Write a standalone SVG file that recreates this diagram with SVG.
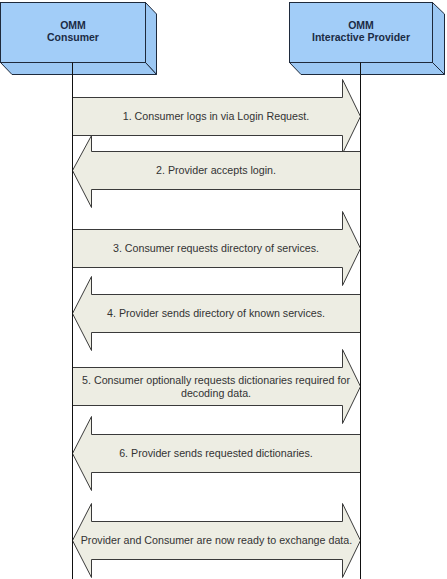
<svg xmlns="http://www.w3.org/2000/svg" width="447" height="579" viewBox="0 0 447 579">
<style>
.box{fill:#A2CDF8;stroke:#1E2A3C;stroke-width:1;stroke-linejoin:miter}
.side{fill:#9CC8F4;stroke:#1E2A3C;stroke-width:1}
.life{stroke:#111;stroke-width:1;fill:none}
.title{font-family:"Liberation Sans",Arial,sans-serif;font-weight:bold;font-size:10.5px;fill:#1B2B45;text-anchor:middle}
.arr{fill:#EDEDE3;stroke:#3A3A3A;stroke-width:1;stroke-linejoin:miter}
.lbl{font-family:"Liberation Sans",Arial,sans-serif;font-size:10.7px;fill:#333;text-anchor:middle}
</style>
<rect width="447" height="579" fill="#fff"/>
<g id="consumer">
<path class="side" d="M145.5,2.5 L156.5,14 V74.5 L145.5,62.5 Z"/>
<path class="side" d="M0.5,62.5 H145.5 L156.5,74.5 H12 Z"/>
<rect class="box" x="0.5" y="2.5" width="145" height="60"/>
<text class="title" x="73" y="29">OMM</text>
<text class="title" x="73" y="41">Consumer</text>
</g>
<g id="provider">
<path class="side" d="M432.5,2.5 L444.5,14 V74.5 L432.5,62.5 Z"/>
<path class="side" d="M289.5,62.5 H432.5 L444.5,74.5 H301 Z"/>
<rect class="box" x="289.5" y="2.5" width="143" height="60"/>
<text class="title" x="361" y="29">OMM</text>
<text class="title" x="361" y="41">Interactive Provider</text>
</g>
<g id="connectors">
<path class="arr" d="M72.5,97.5 H342.5 V79.5 L360.5,116.5 L342.5,153.5 V135.5 H72.5 Z"/>
<text class="lbl" x="216" y="120">1. Consumer logs in via Login Request.</text>
<path class="arr" d="M360.5,151.5 H91.5 V135.5 L72.5,170.5 L91.5,207.5 V189.5 H360.5 Z"/>
<text class="lbl" x="216" y="174">2. Provider accepts login.</text>
<path class="arr" d="M72.5,229.5 H342.5 V211.5 L360.5,248.5 L342.5,285.5 V267.5 H72.5 Z"/>
<text class="lbl" x="216" y="252">3. Consumer requests directory of services.</text>
<path class="arr" d="M360.5,294.5 H91.5 V276.5 L72.5,313.5 L91.5,350.5 V332.5 H360.5 Z"/>
<text class="lbl" x="216" y="317">4. Provider sends directory of known services.</text>
<path class="arr" d="M72.5,367.5 H342.5 V349.5 L360.5,386.5 L342.5,423.5 V405.5 H72.5 Z"/>
<text class="lbl" x="216" y="384">5. Consumer optionally requests dictionaries required for</text>
<text class="lbl" x="216" y="397">decoding data.</text>
<path class="arr" d="M360.5,434.5 H91.5 V416.5 L72.5,453.5 L91.5,490.5 V472.5 H360.5 Z"/>
<text class="lbl" x="216" y="457">6. Provider sends requested dictionaries.</text>
<path class="arr" d="M91.5,521.5 H342.5 V503.5 L360.5,540.5 L342.5,577.5 V559.5 H91.5 V577.5 L72.5,540.5 L91.5,503.5 Z"/>
<text class="lbl" x="216.5" y="544">Provider and Consumer are now ready to exchange data.</text>
</g>
<g id="lifelines">
<line class="life" x1="72.5" y1="62.5" x2="72.5" y2="579"/>
<line class="life" x1="360.5" y1="62.5" x2="360.5" y2="579"/>
</g>
</svg>
